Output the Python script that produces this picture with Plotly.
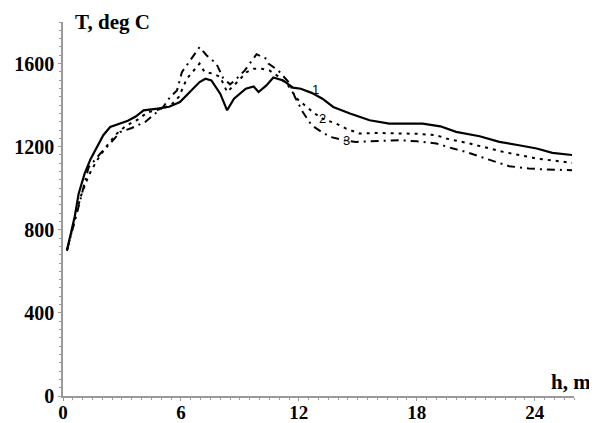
import plotly.graph_objects as go

# Curve 1 (solid)
h1 = [0.2, 0.6, 0.8, 1.1, 1.4, 1.65, 2.05, 2.4, 2.8, 3.3, 3.7, 4.1, 4.8, 5.4, 5.95, 6.45, 6.95, 7.25, 7.55, 8.0, 8.35, 8.7, 9.3, 9.7, 9.95, 10.35, 10.7, 11.2, 11.7, 12.1, 12.65, 13.2, 13.75, 14.6, 15.6, 16.6, 17.5, 18.3, 19.2, 20.0, 21.2, 22.2, 23.2, 24.1, 24.9, 25.9]
T1 = [700, 865, 975, 1070, 1140, 1185, 1255, 1295, 1310, 1325, 1345, 1375, 1383, 1392, 1415, 1463, 1511, 1527, 1519, 1455, 1375, 1431, 1479, 1490, 1463, 1495, 1533, 1519, 1484, 1479, 1459, 1431, 1391, 1360, 1327, 1311, 1311, 1311, 1298, 1271, 1250, 1223, 1207, 1191, 1170, 1160]

# Curve 2 (dotted)
h2 = [0.2, 0.6, 0.9, 1.3, 1.7, 2.2, 2.7, 3.2, 3.8, 4.3, 4.9, 5.5, 5.9, 6.3, 6.95, 7.2, 7.65, 8.0, 8.35, 8.75, 9.35, 9.7, 10.1, 10.5, 11.0, 11.45, 11.9, 12.4, 12.8, 13.2, 13.9, 14.4, 15.1, 15.9, 17.1, 18.0, 19.0, 19.5, 20.7, 22.4, 24.1, 25.3, 25.9]
T2 = [700, 850, 960, 1060, 1130, 1200, 1260, 1300, 1330, 1365, 1380, 1400, 1440, 1527, 1600, 1560, 1551, 1535, 1463, 1500, 1559, 1575, 1575, 1567, 1535, 1495, 1431, 1391, 1360, 1335, 1311, 1287, 1263, 1266, 1263, 1262, 1255, 1239, 1215, 1175, 1143, 1127, 1122]

# Curve 3 (dash-dot)
h3 = [0.2, 0.6, 0.9, 1.3, 1.9, 2.4, 2.9, 3.5, 4.2, 4.7, 5.1, 5.45, 5.8, 6.05, 6.5, 6.95, 7.3, 7.8, 8.15, 8.5, 8.75, 9.25, 9.5, 9.85, 10.35, 10.45, 10.95, 11.4, 11.55, 11.8, 12.2, 12.65, 13.15, 13.6, 14.3, 14.9, 16.1, 17.1, 18.0, 19.0, 19.85, 20.5, 21.5, 22.7, 23.7, 24.6, 25.9]
T3 = [700, 840, 950, 1100, 1167, 1215, 1270, 1290, 1320, 1360, 1391, 1439, 1471, 1559, 1620, 1679, 1640, 1600, 1530, 1500, 1519, 1567, 1600, 1645, 1623, 1600, 1567, 1519, 1503, 1439, 1367, 1303, 1271, 1247, 1231, 1223, 1226, 1231, 1226, 1215, 1191, 1175, 1143, 1106, 1095, 1090, 1087]

# Curve labels
label_text = ["1", "2", "3"]
label_h = [12.86, 13.18, 14.42]
label_T = [1476, 1335, 1231]

x_ticks = [0, 6, 12, 18, 24]
y_ticks = [0, 400, 800, 1200, 1600]

fig = go.Figure()
fig.add_trace(go.Scatter(x=h1, y=T1, mode="lines", line=dict(color="black", width=2.2), showlegend=False))
fig.add_trace(go.Scatter(x=h2, y=T2, mode="lines", line=dict(color="black", width=2, dash="3px,5px"), showlegend=False))
fig.add_trace(go.Scatter(x=h3, y=T3, mode="lines", line=dict(color="black", width=2, dash="8px,5px,2px,5px"), showlegend=False))

for t, xx, yy in zip(label_text, label_h, label_T):
    fig.add_annotation(x=xx, y=yy, text=t, showarrow=False,
                       font=dict(family="Liberation Sans", size=13, color="black"))

fig.add_annotation(xref="paper", yref="paper", x=0.02, y=1.0, xanchor="left", yanchor="middle",
                   text="<b>T, deg C</b>", showarrow=False,
                   font=dict(family="Liberation Serif", size=21, color="black"))
fig.add_annotation(xref="paper", yref="paper", x=1.0, y=0.0, xanchor="left", yanchor="bottom",
                   text="<b>h, m</b>", showarrow=False, xshift=-25,
                   font=dict(family="Liberation Serif", size=21, color="black"))

fig.update_xaxes(range=[0, 26], tickvals=x_ticks, ticktext=[f"<b>{v}</b>" for v in x_ticks],
                 showgrid=False, zeroline=False, showline=True, linecolor="#9a9a9a", linewidth=1.5,
                 ticks="outside", ticklen=3, tickcolor="#9a9a9a", automargin=False,
                 tickfont=dict(family="Liberation Serif", size=19, color="black"),
                 ticklabelstandoff=-5,
                 minor=dict(dtick=0.5, ticks="outside", ticklen=2, tickcolor="#9a9a9a"))
fig.update_yaxes(range=[0, 1800], tickvals=y_ticks, ticktext=[f"<b>{v}</b>" for v in y_ticks],
                 showgrid=False, zeroline=False, showline=True, linecolor="#9a9a9a", linewidth=1.5,
                 ticks="outside", ticklen=3, tickcolor="#9a9a9a", automargin=False,
                 tickfont=dict(family="Liberation Serif", size=20, color="black"),
                 minor=dict(dtick=40, ticks="outside", ticklen=2, tickcolor="#9a9a9a"))

fig.update_layout(width=589, height=415, autosize=False,
                  margin=dict(l=55, r=23, t=14, b=27),
                  plot_bgcolor="white", paper_bgcolor="white")
fig.write_html("out.html")
